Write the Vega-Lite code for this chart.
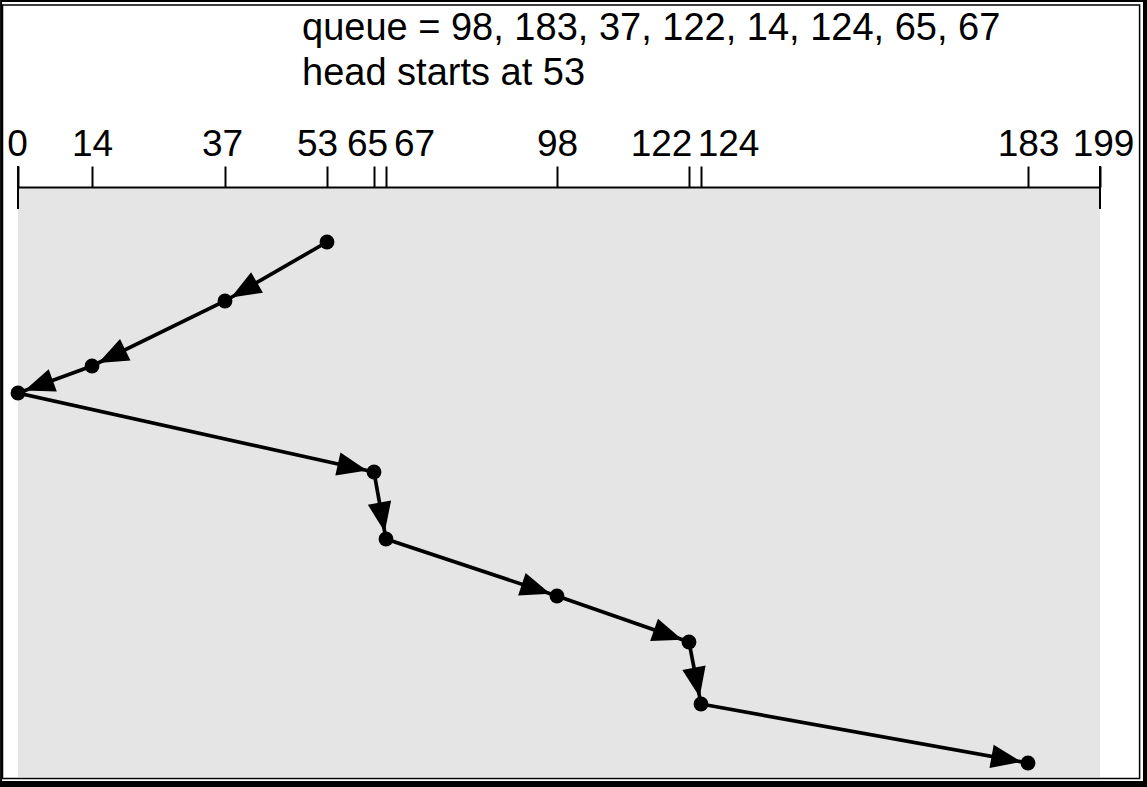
{
  "$schema": "https://vega.github.io/schema/vega-lite/v6.json",
  "width": 1147,
  "height": 600,
  "padding": {"top": 187, "left": 0, "right": 0, "bottom": 0},
  "autosize": {"type": "none"},
  "background": "white",
  "config": {
    "view": {"stroke": null},
    "font": "Liberation Sans"
  },
  "data": {
    "values": [
      {"cyl": 53, "t": 9.32},
      {"cyl": 37, "t": 19.32},
      {"cyl": 14, "t": 30.34},
      {"cyl": 0, "t": 34.92},
      {"cyl": 65, "t": 48.31},
      {"cyl": 67, "t": 59.66},
      {"cyl": 98, "t": 69.32},
      {"cyl": 122, "t": 77.12},
      {"cyl": 124, "t": 87.63},
      {"cyl": 183, "t": 97.63}
    ]
  },
  "encoding": {
    "x": {
      "field": "cyl",
      "type": "quantitative",
      "title": null,
      "scale": {
        "domain": [0, 14, 37, 53, 65, 67, 98, 122, 124, 183, 199],
        "range": [18, 92, 225, 327, 374, 386, 557, 689, 701, 1028, 1100],
        "nice": false,
        "zero": false
      },
      "axis": {
        "orient": "top",
        "title": null,
        "zindex": 1,
        "values": [0, 14, 37, 53, 65, 67, 98, 122, 124, 183, 199],
        "grid": false,
        "domainColor": "black",
        "domainWidth": 2,
        "tickColor": "black",
        "tickWidth": 2,
        "tickSize": 21,
        "labelFont": "Liberation Sans",
        "labelFontSize": 37,
        "labelColor": "black",
        "labelBaseline": "alphabetic",
        "labelPadding": 11,
        "labelOverlap": false,
        "labelFlush": false,
        "labelOffset": {
          "condition": [
            {"test": "datum.value == 0", "value": -1},
            {"test": "datum.value == 37", "value": -3},
            {"test": "datum.value == 53", "value": -10},
            {"test": "datum.value == 65", "value": -7},
            {"test": "datum.value == 67", "value": 28},
            {"test": "datum.value == 122", "value": -28},
            {"test": "datum.value == 124", "value": 27},
            {"test": "datum.value == 199", "value": 3}
          ],
          "value": 0
        }
      }
    },
    "y": {
      "field": "t",
      "type": "quantitative",
      "title": null,
      "scale": {"domain": [0, 100], "range": [0, 590], "nice": false, "zero": false},
      "axis": null
    }
  },
  "layer": [
    {
      "data": {"values": [{"cyl": 0, "cyl2": 199, "t": 0, "t2": 100}]},
      "mark": {"type": "rect", "fill": "#e5e5e5"},
      "encoding": {
        "x2": {"field": "cyl2"},
        "y2": {"field": "t2"}
      }
    },
    {
      "data": {"values": [{"cyl": 0, "t": -3.56, "t2": 3.73}, {"cyl": 199, "t": -3.56, "t2": 3.73}]},
      "mark": {"type": "rule", "color": "black", "strokeWidth": 2},
      "encoding": {
        "y2": {"field": "t2"}
      }
    },
    {
      "mark": {"type": "line", "color": "black", "strokeWidth": 3.7},
      "encoding": {
        "order": {"field": "t"}
      }
    },
    {
      "transform": [
        {"window": [{"op": "lag", "field": "cyl", "as": "pc"}, {"op": "lag", "field": "t", "as": "pt"}], "sort": [{"field": "t"}]},
        {"filter": "datum.pc != null"}
      ],
      "mark": {
        "type": "point",
        "filled": true,
        "color": "black",
        "opacity": 1,
        "size": 5476,
        "shape": "M -0.19 0 L -1 -0.32 L -1 0.32 Z",
        "angle": {"expr": "atan2(scale('y', datum.t) - scale('y', datum.pt), scale('x', datum.cyl) - scale('x', datum.pc)) * 180 / PI"}
      },
      "encoding": {}
    },
    {
      "mark": {"type": "point", "filled": true, "color": "black", "opacity": 1, "size": 220, "shape": "circle"},
      "encoding": {}
    },
    {
      "data": {"values": [{"cyl": 53, "t": -24.9}]},
      "mark": {
        "type": "text",
        "text": ["queue = 98, 183, 37, 122, 14, 124, 65, 67", "head starts at 53"],
        "font": "Liberation Sans",
        "fontSize": 38,
        "lineHeight": 45,
        "align": "left",
        "baseline": "alphabetic",
        "dx": -25,
        "color": "black"
      },
      "encoding": {}
    },
    {
      "data": {"values": [{"cyl": -2.93, "cyl2": 207.8, "t": -30.85, "t2": 100.25}]},
      "mark": {"type": "rect", "fill": null, "stroke": "black", "strokeWidth": 1.5},
      "encoding": {
        "x2": {"field": "cyl2"},
        "y2": {"field": "t2"}
      }
    },
    {
      "data": {"values": [{"cyl": -3.2, "cyl2": 209.22, "t": -31.53, "t2": 101.53}]},
      "mark": {"type": "rect", "fill": null, "stroke": "black", "strokeWidth": 2},
      "encoding": {
        "x2": {"field": "cyl2"},
        "y2": {"field": "t2"}
      }
    },
    {
      "data": {"values": [{"cyl": 209.0, "t": -31.7, "t2": 101.7}]},
      "mark": {"type": "rule", "color": "black", "strokeWidth": 4},
      "encoding": {
        "y2": {"field": "t2"}
      }
    },
    {
      "data": {"values": [{"cyl": -3.4, "cyl2": 209.7, "t": 101.19}]},
      "mark": {"type": "rule", "color": "black", "strokeWidth": 6},
      "encoding": {
        "x2": {"field": "cyl2"}
      }
    }
  ]
}
